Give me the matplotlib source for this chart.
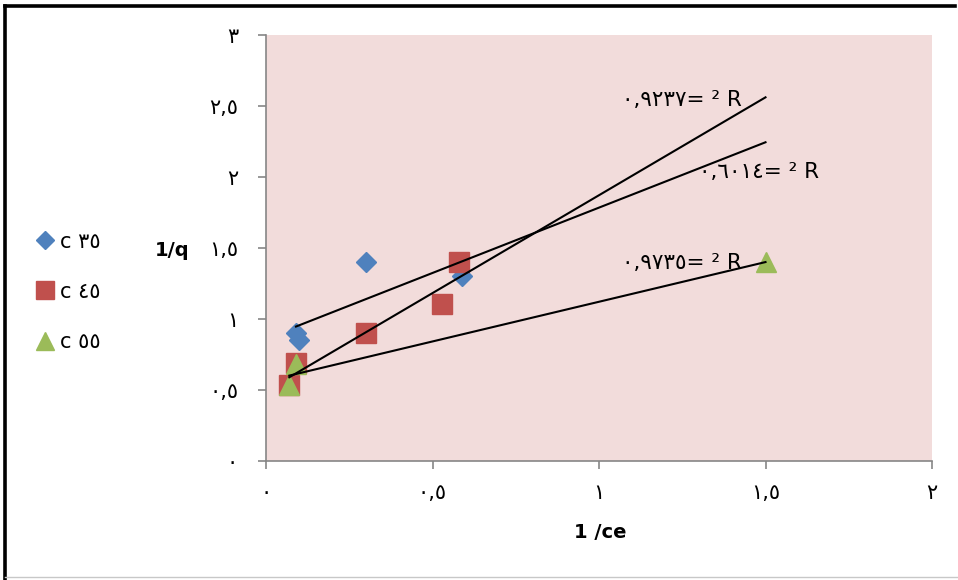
import numpy as np
import matplotlib
matplotlib.use("Agg")
import matplotlib.pyplot as plt
from matplotlib.lines import Line2D

plt.rcParams["font.family"] = ["DejaVu Sans"]

# series
X35 = [0.09, 0.10, 0.30, 0.59]
Y35 = [0.90, 0.85, 1.40, 1.30]
X45 = [0.07, 0.09, 0.30, 0.53, 0.58]
Y45 = [0.535, 0.69, 0.90, 1.105, 1.40]
X55 = [0.07, 0.09, 1.50]
Y55 = [0.535, 0.68, 1.40]
LABELS = ["c ٣٥", "c ٤٥", "c ٥٥"]
R2_TEXT = ["٠,٦٠١٤= ² R", "٠,٩٢٣٧= ² R", "٠,٩٧٣٥= ² R"]
TREND_END = 1.5

XTICKS = [0, 0.5, 1, 1.5, 2]
XTICKLABELS = ["٠", "٠,٥", "١", "١,٥", "٢"]
YTICKS = [0, 0.5, 1, 1.5, 2, 2.5, 3]
YTICKLABELS = ["٠", "٠,٥", "١", "١,٥", "٢", "٢,٥", "٣"]

SERIES = [
    (X35, Y35, "D", "#4F81BD", 10.5),
    (X45, Y45, "s", "#C0504D", 14),
    (X55, Y55, "^", "#9BBB59", 14),
]
# where each R² label sits (data coords, right edge)
R2_POS = [(1.662, 2.035), (1.43, 2.54), (1.43, 1.394)]

fig = plt.figure(figsize=(9.58, 5.8), dpi=100)
ax = fig.add_axes([266 / 958, 1 - 461 / 580, (932 - 266) / 958, (461 - 35) / 580])
ax.set_facecolor("#F2DCDB")

handles = []
for (xs, ys, mk, col, ms), lab in zip(SERIES, LABELS):
    h, = ax.plot(xs, ys, linestyle="none", marker=mk, color=col,
                 markersize=ms, markeredgecolor=col, zorder=3, label=lab)
    handles.append(h)

# linear trendlines, as Excel draws them, carried out to x = 1.5
for xs, ys, *_ in SERIES:
    k, b = np.polyfit(xs, ys, 1)
    xl = np.array([min(xs), TREND_END])
    ax.plot(xl, k * xl + b, color="black", linewidth=1.5, zorder=4)

for (tx, ty), txt in zip(R2_POS, R2_TEXT):
    ax.text(tx, ty, txt, fontsize=15.5, ha="right", va="center", zorder=5)

ax.set_xlim(0, 2)
ax.set_ylim(0, 3)
ax.set_xticks(XTICKS)
ax.set_xticklabels(XTICKLABELS, fontsize=15)
ax.set_yticks(YTICKS)
ax.set_yticklabels(YTICKLABELS, fontsize=15)
ax.tick_params(direction="out", length=6, color="#868686", width=1.2)
ax.tick_params(axis="x", pad=10)
ax.tick_params(axis="y", pad=14)
for s in ("top", "right"):
    ax.spines[s].set_visible(False)
for s in ("left", "bottom"):
    ax.spines[s].set_color("#868686")
    ax.spines[s].set_linewidth(1.2)

fig.text(172 / 958, 1 - 250 / 580, "1/q", fontsize=14, fontweight="bold",
         ha="center", va="center")
fig.text(600 / 958, 1 - 533 / 580, "1 /ce", fontsize=14, fontweight="bold",
         ha="center", va="center")

fig.legend(handles, LABELS, loc="center left", bbox_to_anchor=(0.014, 0.497),
           frameon=False, fontsize=15, labelspacing=1.45, handletextpad=0.15,
           handlelength=1.2, markerscale=0.9)

# chart frame: heavy black on the left and top, faint grey at the bottom
fig.add_artist(Line2D([5 / 958, 5 / 958], [0, 1 - 6 / 580], color="black",
                      linewidth=2.6, transform=fig.transFigure))
fig.add_artist(Line2D([5 / 958, 955 / 958], [1 - 6 / 580, 1 - 6 / 580],
                      color="black", linewidth=2.6, transform=fig.transFigure))
fig.add_artist(Line2D([5 / 958, 1], [1 - 577 / 580, 1 - 577 / 580],
                      color="#C8C8C8", linewidth=1.0, transform=fig.transFigure))

fig.savefig("out.png", dpi=100)
